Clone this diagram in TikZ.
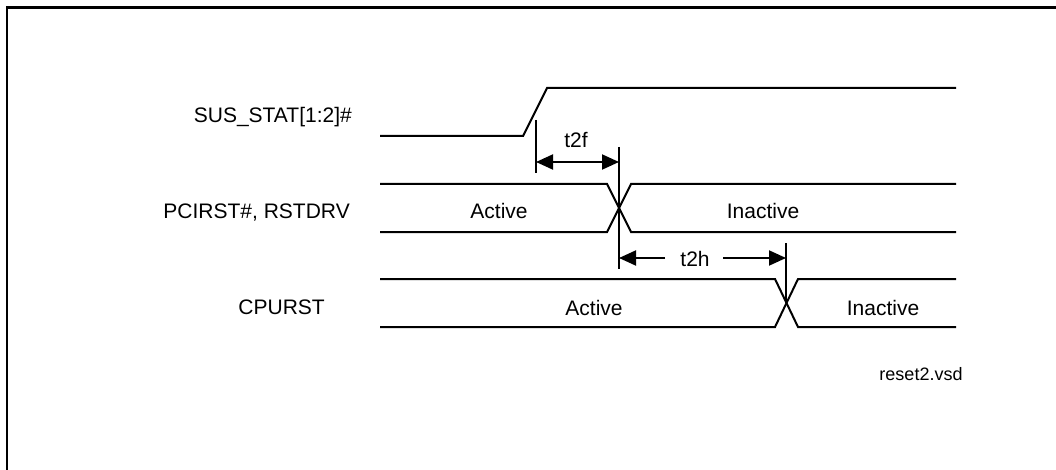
\documentclass[tikz,border=0pt]{standalone}
\usepackage{fontspec}
\setmainfont{Liberation Sans}
\usetikzlibrary{arrows.meta}
\begin{document}
\begin{tikzpicture}[x=1pt,y=-1pt,
  sig/.style={line width=2pt, line join=miter},
  marker/.style={line width=1.6pt},
  dimarrow/.style={line width=2pt, -{Triangle[length=17pt,width=15pt]}},
  lbl/.style={font=\fontsize{21}{25}\selectfont, inner sep=0pt},
  small/.style={font=\fontsize{18}{22}\selectfont, inner sep=0pt}]
\useasboundingbox (0,0) rectangle (1056,470);
% frame
\draw[line width=2.2pt] (7,470) -- (7,7.5) -- (1056,7.5);
% signal names
\node[lbl, anchor=base east] (nsus) at (352,123) {SUS\_STAT[1:2]\#};
\node[lbl, anchor=base east] (npci) at (350,218.5) {PCIRST\#, RSTDRV};
\node[lbl, anchor=base east] (ncpu) at (325,314.5) {CPURST};
% SUS_STAT waveform
\draw[sig] (380,136) -- (523,136) -- (547,88) -- (956,88);
% PCIRST waveform
\draw[sig] (380,184) -- (607,184) -- (631,232) -- (956,232);
\draw[sig] (380,232) -- (607,232) -- (631,184) -- (956,184);
\node[lbl, anchor=base] (pact) at (499,218.5) {Active};
\node[lbl, anchor=base] (pina) at (763,218.5) {Inactive};
% CPURST waveform
\draw[sig] (380,279) -- (775,279) -- (798,327) -- (956,327);
\draw[sig] (380,327) -- (775,327) -- (798,279) -- (956,279);
\node[lbl, anchor=base] (cact) at (594,315.5) {Active};
\node[lbl, anchor=base] (cina) at (883,315.5) {Inactive};
% markers
\coordinate (m1t) at (536,120);
\coordinate (m1b) at (536,173);
\coordinate (m2t) at (619,147);
\coordinate (m2b) at (619,269);
\coordinate (m3t) at (786,243);
\coordinate (m3b) at (786,303);
\draw[marker] (m1t) -- (m1b);
\draw[marker] (m2t) -- (m2b);
\draw[marker] (m3t) -- (m3b);
% t2f
\coordinate (a1) at (536,162);
\coordinate (a2) at (619,162);
\draw[dimarrow, {Triangle[length=17pt,width=15pt]}-{Triangle[length=17pt,width=15pt]}] (a1) -- (a2);
\node[lbl, anchor=base] (t2f) at (576,147.5) {t2f};
% t2h
\node[lbl, anchor=base] (t2h) at (695,266.5) {t2h};
\coordinate (b1) at (619,258);
\coordinate (b2) at (786,258);
\coordinate (b1s) at (665,258);
\coordinate (b2s) at (723,258);
\draw[dimarrow] (b1s) -- (b1);
\draw[dimarrow] (b2s) -- (b2);
% file name
\node[small, anchor=base] (fname) at (921,380.5) {reset2.vsd};
\end{tikzpicture}
\end{document}
